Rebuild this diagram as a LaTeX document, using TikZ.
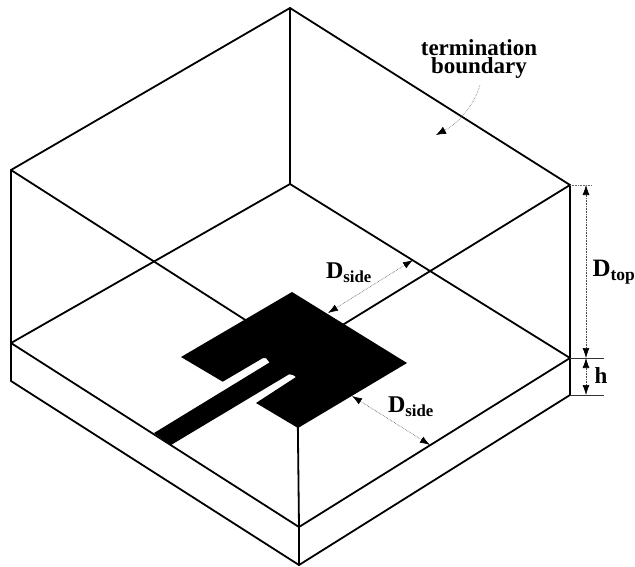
\documentclass[tikz,border=0pt]{standalone}
\usepackage{fontspec}
\setmainfont{Liberation Serif}
\usetikzlibrary{arrows.meta}
\tikzset{
  edge/.style={draw=black,line width=1.8pt,line join=round,line cap=round},
  dim/.style={draw=black!70,line width=0.6pt,densely dotted,{Latex[length=10pt,width=7pt,black]}-{Latex[length=10pt,width=7pt,black]}},
  ext/.style={draw=black!80,line width=0.9pt},
  lab/.style={inner sep=0pt,text=black},
}
\begin{document}
\begin{tikzpicture}[x=1pt,y=-1pt]
\useasboundingbox (0,0) rectangle (635,566);
% lid
\coordinate (LB) at (290,8);
\coordinate (LL) at (11,170);
\coordinate (LR) at (570,185);
\coordinate (LF) at (297,353);
% ground plane
\coordinate (GB) at (290,184);
\coordinate (GL) at (11,343);
\coordinate (GR) at (570,358);
\coordinate (GF) at (299,527);
% substrate bottom
\coordinate (SL) at (11,381);
\coordinate (SR) at (570,395);
\coordinate (SF) at (299,565);
\draw[edge] (LL) -- (LB) -- (LR) -- (LF) -- cycle;
\draw[edge] (LB) -- (GB);
\draw[edge] (GL) -- (GB) -- (GR) -- (GF) -- cycle;
\draw[edge] (LL) -- (SL) -- (SF) -- (SR) -- (LR);
\draw[edge] (LF) -- (GF) -- (SF);
% patch with feed
\fill[black] (292,292) -- (181,357) -- (222.7,381.7) -- (263,358) -- (266,358) -- (269.5,362.5)
  -- (154,433) -- (171,445) -- (289,374.3) -- (293,375) -- (296,377) -- (256,403)
  -- (298,428) -- (407,363) -- cycle;
% dimensions
\coordinate (A1) at (328,313);
\coordinate (A2) at (413,260);
\coordinate (B1) at (352,396);
\coordinate (B2) at (430,445);
\coordinate (C1) at (586,185);
\coordinate (C2) at (586,358);
\coordinate (C3) at (586,395);
\coordinate (E1) at (592,185);
\coordinate (E2) at (604,358);
\coordinate (E3) at (604,395);
\draw[dim] (A1) -- (A2);
\draw[dim] (B1) -- (B2);
\draw[dim] (C1) -- (C2);
\draw[dim] (C2) -- (C3);
\draw[draw=black!60,line width=0.6pt,densely dotted] (LR) -- (E1);
\draw[ext] (GR) -- (E2);
\draw[ext] (SR) -- (E3);
% labels
\node[lab,align=center,font=\bfseries\fontsize{23}{18}\selectfont] (tb) at (479,59) {termination\\boundary};
\coordinate (T1) at (480,85);
\coordinate (T2) at (436,135);
\draw[draw=black!60,line width=0.6pt,densely dotted,-{Latex[length=10pt,width=8pt,black]}] (T1) .. controls (474,105) and (460,122) .. (T2);
\node[lab,font=\bfseries\fontsize{24}{24}\selectfont] (d1) at (349,273) {D\textsubscript{side}};
\node[lab,font=\bfseries\fontsize{24}{24}\selectfont] (d2) at (411,407) {D\textsubscript{side}};
\node[lab,font=\bfseries\fontsize{25}{24}\selectfont] (d3) at (614,272) {D\textsubscript{top}};
\node[lab,font=\bfseries\fontsize{23}{24}\selectfont] (h) at (601,376) {h};
\end{tikzpicture}
\end{document}
